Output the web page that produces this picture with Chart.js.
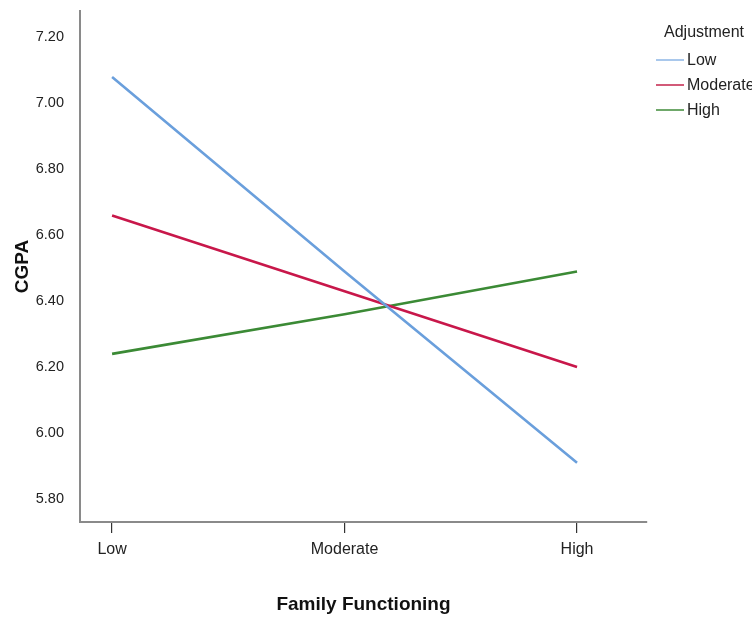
<!DOCTYPE html>
<html>
<head>
<meta charset="utf-8">
<script src="https://cdn.jsdelivr.net/npm/chart.js@4.4.1/dist/chart.umd.min.js"></script>
<style>
    html, body { margin: 0; padding: 0; background: #fff; overflow: hidden; }
    #wrap { width: 752px; height: 619px; position: relative; }
</style>
</head>
<body>
<div id="wrap"><canvas id="chart"></canvas></div>
<script>
const categories = ['Low', 'Moderate', 'High'];
const seriesNames = ['Low', 'Moderate', 'High'];
const lowAdjustment = [7.08, 6.49, 5.91];
const moderateAdjustment = [6.66, 6.43, 6.20];
const highAdjustment = [6.24, 6.36, 6.49];
const yTicks = [5.80, 6.00, 6.20, 6.40, 6.60, 6.80, 7.00, 7.20];

const narrow = "'Liberation Sans Narrow', 'Arial Narrow', 'Liberation Sans', Arial, sans-serif";
const bold = "'Liberation Sans', Arial, sans-serif";

function toPoints(values) {
    return values.map((v, i) => ({ x: i, y: v }));
}

// SPSS style legend, top right, title on top
const legendPlugin = {
    id: 'spssLegend',
    afterDraw(chart) {
        const ctx = chart.ctx;
        ctx.save();
        ctx.fillStyle = '#222';
        ctx.font = '16px ' + narrow;
        ctx.textBaseline = 'middle';
        ctx.textAlign = 'left';
        ctx.fillText('Adjustment', 664, 33);
        chart.data.datasets.forEach((ds, i) => {
            const y = 60 + i * 25;
            ctx.strokeStyle = ds.legendColor;
            ctx.lineWidth = 2;
            ctx.beginPath();
            ctx.moveTo(656, y);
            ctx.lineTo(684, y);
            ctx.stroke();
            ctx.fillStyle = '#222';
            ctx.fillText(ds.label, 687, y + 1);
        });
        ctx.restore();
    }
};

const ctx = document.getElementById('chart').getContext('2d');
new Chart(ctx, {
    type: 'line',
    data: {
        datasets: [
            { label: seriesNames[0], data: toPoints(lowAdjustment), borderColor: '#6a9fdc', legendColor: '#a9c8ec', borderWidth: 2.6 },
            { label: seriesNames[1], data: toPoints(moderateAdjustment), borderColor: '#c8174a', legendColor: '#d25a78', borderWidth: 2.6 },
            { label: seriesNames[2], data: toPoints(highAdjustment), borderColor: '#3b8a35', legendColor: '#6fa86a', borderWidth: 2.6 }
        ]
    },
    options: {
        responsive: true,
        maintainAspectRatio: false,
        animation: false,
        layout: { padding: { top: 11, right: 105, bottom: 0, left: 0 } },
        elements: {
            point: { radius: 0, hoverRadius: 0 },
            line: { tension: 0, fill: false }
        },
        plugins: {
            legend: { display: false },
            tooltip: { enabled: false }
        },
        scales: {
            x: {
                type: 'linear',
                min: -0.138,
                max: 2.301,
                afterFit: scale => {
                    scale.height = 97;
                    scale.paddingLeft = 0;
                    scale.paddingRight = 0;
                },
                afterBuildTicks: scale => {
                    scale.ticks = categories.map((c, i) => ({ value: i }));
                },
                ticks: {
                    callback: value => categories[value],
                    color: '#222',
                    font: { family: narrow, size: 16 },
                    padding: 7,
                    maxRotation: 0
                },
                grid: {
                    drawOnChartArea: false,
                    drawTicks: true,
                    tickLength: 11,
                    color: '#333',
                    lineWidth: 1.2
                },
                border: { display: true, color: '#8a8a8a', width: 2 },
                title: {
                    display: true,
                    text: 'Family Functioning',
                    color: '#111',
                    font: { family: bold, size: 19, weight: 'bold' },
                    padding: { top: 0, bottom: 3 }
                }
            },
            y: {
                min: 5.73,
                max: 7.28,
                afterFit: scale => {
                    scale.width = 80;
                    scale.paddingTop = 0;
                    scale.paddingBottom = 0;
                },
                afterBuildTicks: scale => {
                    scale.ticks = yTicks.map(v => ({ value: v }));
                },
                ticks: {
                    callback: value => value.toFixed(2),
                    color: '#222',
                    font: { family: narrow, size: 14.5 },
                    padding: 8
                },
                grid: { display: false },
                border: { display: true, color: '#8a8a8a', width: 2 },
                title: {
                    display: true,
                    text: 'CGPA',
                    color: '#111',
                    font: { family: bold, size: 19, weight: 'bold' },
                    padding: { top: 11, bottom: 0 }
                }
            }
        }
    },
    plugins: [legendPlugin]
});
</script>
</body>
</html>
